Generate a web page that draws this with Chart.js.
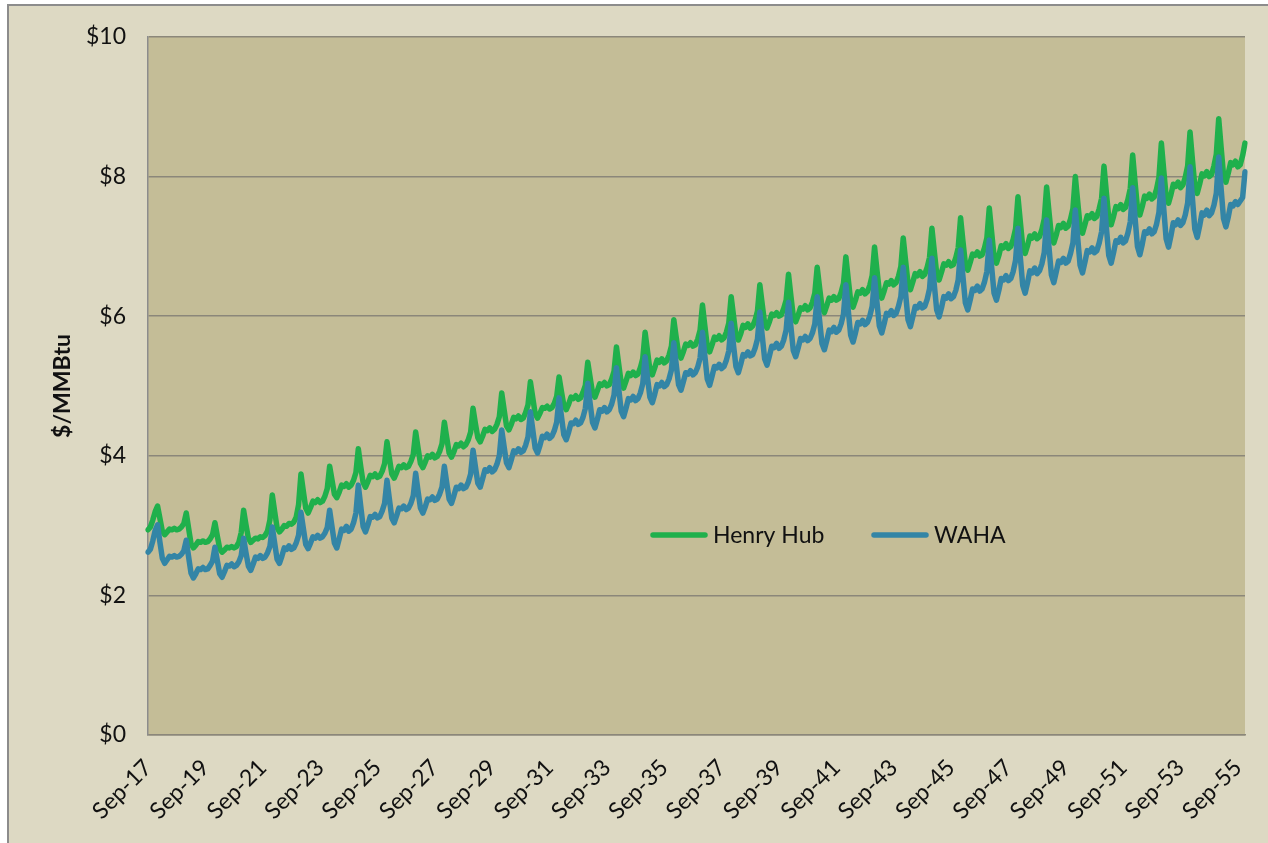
<!DOCTYPE html>
<html>
<head>
<meta charset="utf-8">
<script src="https://cdn.jsdelivr.net/npm/chart.js@4.4.1/dist/chart.umd.min.js"></script>
<style>
  html, body { margin: 0; padding: 0; background: #ffffff; }
  #wrap { position: absolute; left: 0; top: 0; width: 1268px; height: 843px; }
</style>
</head>
<body>
<div id="wrap"><canvas id="c" width="1268" height="843"></canvas></div>
<script>
// ---- DATA (monthly, Sep-17 .. Dec-55) ----
const startYear = 2017;
const startMonth = 8; // September (0-based)
const monthNames = ['Jan','Feb','Mar','Apr','May','Jun','Jul','Aug','Sep','Oct','Nov','Dec'];

const tickLabels = ['Sep-17','Sep-19','Sep-21','Sep-23','Sep-25','Sep-27','Sep-29','Sep-31','Sep-33','Sep-35',
                    'Sep-37','Sep-39','Sep-41','Sep-43','Sep-45','Sep-47','Sep-49','Sep-51','Sep-53','Sep-55'];

const seriesNames = ['Henry Hub', 'WAHA'];

const henryHub = [
  2.94, 2.98, 3.08, 3.20,
  3.28, 3.10, 2.92, 2.87, 2.91, 2.95, 2.94, 2.96, 2.94, 2.95, 2.98, 3.03,
  3.18, 2.96, 2.74, 2.68, 2.72, 2.77, 2.76, 2.78, 2.76, 2.77, 2.81, 2.87,
  3.04, 2.85, 2.67, 2.62, 2.65, 2.69, 2.68, 2.70, 2.68, 2.70, 2.76, 2.90,
  3.22, 3.01, 2.82, 2.76, 2.79, 2.82, 2.81, 2.84, 2.83, 2.86, 2.92, 3.08,
  3.44, 3.20, 2.97, 2.91, 2.95, 3.00, 2.99, 3.03, 3.02, 3.05, 3.12, 3.30,
  3.74, 3.49, 3.25, 3.18, 3.26, 3.35, 3.33, 3.37, 3.33, 3.35, 3.42, 3.53,
  3.85, 3.65, 3.45, 3.40, 3.48, 3.58, 3.56, 3.60, 3.55, 3.58, 3.65, 3.76,
  4.10, 3.85, 3.62, 3.55, 3.63, 3.72, 3.70, 3.74, 3.69, 3.71, 3.78, 3.89,
  4.20, 3.97, 3.74, 3.68, 3.76, 3.85, 3.83, 3.87, 3.83, 3.85, 3.92, 4.02,
  4.34, 4.11, 3.89, 3.83, 3.91, 4.00, 3.98, 4.02, 3.97, 3.99, 4.06, 4.17,
  4.48, 4.26, 4.04, 3.98, 4.06, 4.16, 4.14, 4.18, 4.13, 4.16, 4.23, 4.34,
  4.68, 4.46, 4.26, 4.20, 4.28, 4.38, 4.36, 4.40, 4.35, 4.38, 4.45, 4.56,
  4.90, 4.66, 4.43, 4.37, 4.45, 4.55, 4.53, 4.57, 4.52, 4.54, 4.62, 4.73,
  5.06, 4.83, 4.60, 4.54, 4.61, 4.69, 4.68, 4.71, 4.67, 4.69, 4.75, 4.85,
  5.13, 4.92, 4.72, 4.66, 4.74, 4.84, 4.82, 4.86, 4.81, 4.83, 4.91, 5.01,
  5.34, 5.12, 4.90, 4.84, 4.93, 5.03, 5.01, 5.05, 5.00, 5.02, 5.10, 5.21,
  5.56, 5.30, 5.04, 4.97, 5.07, 5.18, 5.15, 5.20, 5.15, 5.17, 5.26, 5.39,
  5.77, 5.50, 5.23, 5.16, 5.26, 5.37, 5.34, 5.39, 5.33, 5.36, 5.44, 5.57,
  5.95, 5.70, 5.47, 5.40, 5.49, 5.60, 5.58, 5.62, 5.57, 5.59, 5.67, 5.80,
  6.16, 5.86, 5.57, 5.49, 5.59, 5.70, 5.67, 5.72, 5.66, 5.69, 5.77, 5.90,
  6.28, 6.00, 5.73, 5.66, 5.75, 5.87, 5.84, 5.89, 5.83, 5.86, 5.94, 6.07,
  6.45, 6.17, 5.90, 5.83, 5.92, 6.03, 6.01, 6.05, 6.00, 6.02, 6.11, 6.23,
  6.60, 6.29, 6.00, 5.92, 6.01, 6.12, 6.10, 6.15, 6.09, 6.12, 6.20, 6.33,
  6.70, 6.41, 6.13, 6.05, 6.15, 6.26, 6.23, 6.28, 6.23, 6.25, 6.34, 6.47,
  6.85, 6.53, 6.22, 6.13, 6.23, 6.35, 6.33, 6.38, 6.32, 6.35, 6.44, 6.58,
  6.99, 6.66, 6.35, 6.26, 6.36, 6.48, 6.46, 6.51, 6.45, 6.48, 6.57, 6.71,
  7.12, 6.79, 6.47, 6.38, 6.49, 6.61, 6.58, 6.64, 6.57, 6.60, 6.70, 6.84,
  7.26, 6.93, 6.61, 6.52, 6.63, 6.75, 6.73, 6.78, 6.72, 6.74, 6.84, 6.98,
  7.41, 7.07, 6.75, 6.66, 6.77, 6.89, 6.87, 6.92, 6.86, 6.88, 6.98, 7.12,
  7.55, 7.20, 6.86, 6.76, 6.87, 7.01, 6.98, 7.04, 6.97, 7.00, 7.10, 7.25,
  7.71, 7.35, 7.00, 6.90, 7.01, 7.15, 7.12, 7.18, 7.11, 7.14, 7.24, 7.39,
  7.85, 7.49, 7.15, 7.05, 7.16, 7.30, 7.27, 7.33, 7.26, 7.29, 7.39, 7.54,
  8.00, 7.64, 7.29, 7.19, 7.31, 7.44, 7.41, 7.47, 7.40, 7.43, 7.54, 7.69,
  8.15, 7.77, 7.41, 7.31, 7.43, 7.57, 7.54, 7.60, 7.53, 7.56, 7.67, 7.83,
  8.31, 7.92, 7.55, 7.45, 7.57, 7.72, 7.69, 7.75, 7.68, 7.71, 7.82, 7.99,
  8.48, 8.09, 7.72, 7.62, 7.74, 7.89, 7.86, 7.92, 7.84, 7.88, 7.99, 8.15,
  8.64, 8.24, 7.87, 7.76, 7.89, 8.04, 8.01, 8.07, 8.00, 8.03, 8.15, 8.32,
  8.83, 8.42, 8.03, 7.92, 8.05, 8.20, 8.17, 8.22, 8.14, 8.17, 8.30, 8.48
];

const waha = [
  2.62, 2.66, 2.78, 2.93,
  3.01, 2.76, 2.53, 2.46, 2.51, 2.56, 2.55, 2.57, 2.55, 2.56, 2.59, 2.64,
  2.79, 2.55, 2.32, 2.25, 2.31, 2.38, 2.37, 2.40, 2.37, 2.38, 2.43, 2.49,
  2.69, 2.50, 2.31, 2.26, 2.34, 2.43, 2.42, 2.45, 2.41, 2.43, 2.48, 2.57,
  2.82, 2.61, 2.42, 2.36, 2.45, 2.55, 2.53, 2.57, 2.53, 2.55, 2.61, 2.70,
  2.98, 2.75, 2.52, 2.46, 2.56, 2.68, 2.66, 2.71, 2.66, 2.68, 2.75, 2.86,
  3.19, 2.96, 2.73, 2.67, 2.75, 2.84, 2.82, 2.86, 2.82, 2.84, 2.89, 2.97,
  3.22, 2.98, 2.75, 2.68, 2.81, 2.95, 2.93, 2.99, 2.92, 2.95, 3.04, 3.18,
  3.58, 3.28, 2.99, 2.91, 3.01, 3.13, 3.12, 3.16, 3.11, 3.13, 3.21, 3.32,
  3.65, 3.38, 3.11, 3.04, 3.14, 3.25, 3.24, 3.28, 3.23, 3.25, 3.32, 3.43,
  3.75, 3.49, 3.25, 3.18, 3.27, 3.38, 3.37, 3.41, 3.36, 3.38, 3.45, 3.55,
  3.85, 3.61, 3.38, 3.32, 3.43, 3.55, 3.53, 3.58, 3.53, 3.55, 3.62, 3.74,
  4.08, 3.84, 3.61, 3.55, 3.67, 3.80, 3.78, 3.83, 3.77, 3.80, 3.88, 4.00,
  4.37, 4.13, 3.90, 3.83, 3.94, 4.07, 4.05, 4.10, 4.05, 4.07, 4.15, 4.27,
  4.63, 4.37, 4.11, 4.04, 4.15, 4.28, 4.26, 4.31, 4.25, 4.28, 4.36, 4.48,
  4.83, 4.56, 4.30, 4.23, 4.34, 4.47, 4.46, 4.51, 4.45, 4.47, 4.55, 4.68,
  5.04, 4.75, 4.48, 4.40, 4.52, 4.66, 4.64, 4.69, 4.63, 4.66, 4.74, 4.87,
  5.26, 4.95, 4.64, 4.56, 4.68, 4.82, 4.80, 4.85, 4.79, 4.82, 4.90, 5.03,
  5.42, 5.12, 4.84, 4.76, 4.88, 5.02, 5.00, 5.05, 4.99, 5.02, 5.10, 5.23,
  5.62, 5.31, 5.02, 4.94, 5.06, 5.19, 5.17, 5.22, 5.16, 5.19, 5.27, 5.40,
  5.77, 5.43, 5.10, 5.01, 5.14, 5.28, 5.26, 5.31, 5.25, 5.28, 5.37, 5.50,
  5.90, 5.58, 5.28, 5.19, 5.31, 5.45, 5.43, 5.49, 5.43, 5.45, 5.54, 5.67,
  6.06, 5.72, 5.39, 5.30, 5.43, 5.57, 5.55, 5.61, 5.54, 5.57, 5.66, 5.80,
  6.20, 5.85, 5.51, 5.42, 5.54, 5.68, 5.66, 5.71, 5.65, 5.68, 5.76, 5.89,
  6.28, 5.94, 5.61, 5.52, 5.65, 5.80, 5.78, 5.84, 5.77, 5.80, 5.89, 6.03,
  6.45, 6.08, 5.73, 5.63, 5.76, 5.91, 5.89, 5.94, 5.88, 5.91, 6.00, 6.14,
  6.55, 6.20, 5.86, 5.76, 5.89, 6.04, 6.02, 6.08, 6.01, 6.04, 6.14, 6.28,
  6.70, 6.32, 5.95, 5.85, 5.99, 6.14, 6.12, 6.18, 6.12, 6.14, 6.24, 6.39,
  6.83, 6.45, 6.09, 5.99, 6.12, 6.28, 6.26, 6.32, 6.25, 6.28, 6.37, 6.52,
  6.95, 6.56, 6.19, 6.09, 6.23, 6.39, 6.37, 6.43, 6.36, 6.39, 6.49, 6.64,
  7.09, 6.70, 6.33, 6.23, 6.37, 6.54, 6.52, 6.58, 6.51, 6.54, 6.64, 6.80,
  7.26, 6.84, 6.44, 6.33, 6.48, 6.65, 6.62, 6.69, 6.61, 6.65, 6.75, 6.91,
  7.38, 6.98, 6.59, 6.48, 6.63, 6.79, 6.77, 6.83, 6.76, 6.79, 6.90, 7.05,
  7.52, 7.12, 6.73, 6.62, 6.77, 6.94, 6.92, 6.98, 6.91, 6.94, 7.05, 7.21,
  7.69, 7.27, 6.87, 6.76, 6.91, 7.08, 7.06, 7.13, 7.05, 7.08, 7.19, 7.35,
  7.84, 7.41, 7.00, 6.88, 7.03, 7.21, 7.19, 7.25, 7.18, 7.21, 7.32, 7.49,
  7.98, 7.54, 7.11, 6.99, 7.15, 7.34, 7.31, 7.38, 7.30, 7.34, 7.45, 7.62,
  8.14, 7.69, 7.25, 7.13, 7.29, 7.48, 7.45, 7.52, 7.44, 7.48, 7.59, 7.76,
  8.28, 7.83, 7.40, 7.28, 7.42, 7.60, 7.58, 7.64, 7.60, 7.65, 7.70, 8.07
];

// month categories built from the start month and the series length
const categories = henryHub.map((_, i) => {
  const m = (startMonth + i) % 12;
  const y = startYear + Math.floor((startMonth + i) / 12);
  return monthNames[m] + '-' + String(y % 100).padStart(2, '0');
});
const tickSet = new Set(tickLabels);

// ---- STYLE ----
const COLORS = { hh: '#1fb04c', waha: '#3385a6', outer: '#ddd9c3', plot: '#c4bd97', grid: '#8b877a', frame: '#8c8c8c', text: '#111111' };
const FONT = 'Lato, "Open Sans", sans-serif';

const backgroundPlugin = {
  id: 'bg',
  beforeDraw(chart) {
    const { ctx, chartArea: a, width, height } = chart;
    ctx.save();
    ctx.fillStyle = '#ffffff';
    ctx.fillRect(0, 0, width, height);
    ctx.fillStyle = COLORS.outer;
    ctx.fillRect(8, 5, width - 8, height - 5);
    ctx.strokeStyle = COLORS.frame;
    ctx.lineWidth = 2;
    ctx.strokeRect(8, 5, width, height);
    ctx.fillStyle = COLORS.plot;
    ctx.fillRect(a.left, a.top, a.right - a.left, a.bottom - a.top);
    ctx.restore();
  }
};

const legendPlugin = {
  id: 'inlineLegend',
  afterDraw(chart) {
    const { ctx, chartArea: a } = chart;
    const y = a.top + 498;
    let x = a.left + 505;
    ctx.save();
    ctx.font = '23px ' + FONT;
    ctx.textBaseline = 'middle';
    ctx.textAlign = 'left';
    chart.data.datasets.forEach((ds) => {
      ctx.strokeStyle = ds.borderColor;
      ctx.lineWidth = 5.5;
      ctx.lineCap = 'round';
      ctx.beginPath();
      ctx.moveTo(x, y);
      ctx.lineTo(x + 52, y);
      ctx.stroke();
      ctx.fillStyle = COLORS.text;
      ctx.fillText(ds.label, x + 60, y + 1);
      x += 221;
    });
    ctx.restore();
  }
};

new Chart(document.getElementById('c'), {
  type: 'line',
  data: {
    labels: categories,
    datasets: [
      { label: seriesNames[0], data: henryHub, borderColor: COLORS.hh, backgroundColor: COLORS.hh, borderWidth: 5.5, pointRadius: 0, tension: 0, order: 1, borderJoinStyle: 'round', borderCapStyle: 'round' },
      { label: seriesNames[1], data: waha, borderColor: COLORS.waha, backgroundColor: COLORS.waha, borderWidth: 5.5, pointRadius: 0, tension: 0, order: 0, borderJoinStyle: 'round', borderCapStyle: 'round' }
    ]
  },
  options: {
    responsive: false,
    animation: false,
    layout: { padding: { left: 0, top: 37, right: 23, bottom: 0 } },
    plugins: { legend: { display: false }, tooltip: { enabled: false } },
    scales: {
      x: {
        type: 'category',
        offset: false,
        grid: { display: false, drawTicks: false },
        border: { display: true, color: COLORS.grid, width: 1.5 },
        ticks: {
          autoSkip: false,
          maxRotation: 45,
          minRotation: 45,
          padding: 19,
          color: COLORS.text,
          font: { family: FONT, size: 23 },
          callback: function (value, index) {
            const lab = categories[index];
            return tickSet.has(lab) ? lab : null;
          }
        },
        afterFit(scale) {
          scale.height = 843 - 735;
          scale.paddingRight = 0;
        }
      },
      y: {
        min: 0,
        max: 10,
        grid: { color: COLORS.grid, lineWidth: 1.5, drawTicks: false },
        border: { display: true, color: COLORS.frame, width: 1.5 },
        ticks: {
          stepSize: 2,
          padding: 22,
          color: COLORS.text,
          font: { family: FONT, size: 23 },
          callback: (v) => '$' + v
        },
        title: {
          display: true,
          text: '$/MMBtu',
          color: COLORS.text,
          font: { family: FONT, size: 23, weight: 'bold' },
          padding: { top: 49, bottom: 0 }
        },
        afterFit(scale) { scale.width = 148; }
      }
    }
  },
  plugins: [backgroundPlugin, legendPlugin]
});
</script>
</body>
</html>
